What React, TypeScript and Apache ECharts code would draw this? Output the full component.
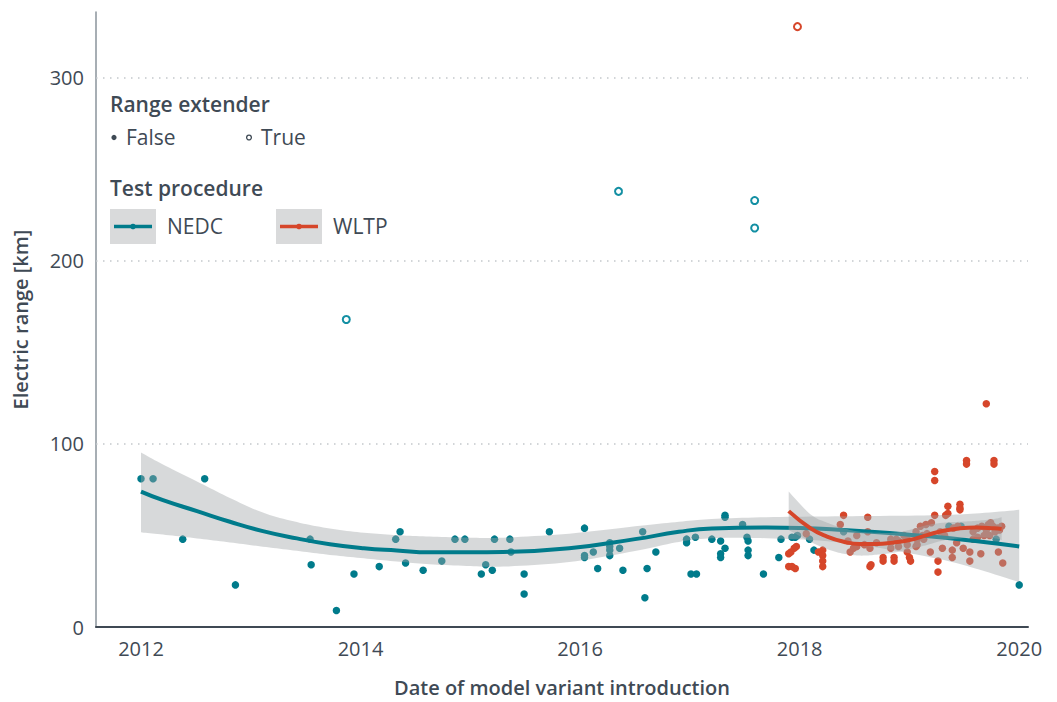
import React, { useEffect, useRef } from "react";
import * as echarts from "echarts";

const TEAL = "#007b8b";
const RED = "#d6462a";
const TEXT = "#3f4a55";
const FONT = "'Open Sans', sans-serif";
const BAND = "rgba(160,164,168,0.42)";

const xTicks = [2012, 2014, 2016, 2018, 2020];
const yTicks = [0, 100, 200, 300];
const gridValues = [100, 200, 300];

// NEDC, no range extender
const nedcFalse: [number, number][] = [
  [2012.0, 81], [2012.11, 81], [2012.38, 48], [2012.58, 81], [2012.86, 23],
  [2013.54, 48], [2013.55, 34], [2013.78, 9], [2013.94, 29], [2014.17, 33],
  [2014.32, 48], [2014.36, 52], [2014.41, 35], [2014.57, 31], [2014.74, 36],
  [2014.86, 48], [2014.95, 48], [2015.1, 29], [2015.14, 34], [2015.2, 31],
  [2015.22, 48], [2015.36, 48], [2015.37, 41], [2015.49, 29], [2015.49, 18],
  [2015.72, 52], [2016.04, 54], [2016.04, 39], [2016.04, 38], [2016.12, 41],
  [2016.16, 32], [2016.27, 46], [2016.27, 44], [2016.27, 42], [2016.27, 39],
  [2016.36, 43], [2016.39, 31], [2016.57, 52], [2016.59, 16], [2016.61, 32],
  [2016.69, 41], [2016.97, 48], [2016.97, 46], [2017.01, 29], [2017.06, 29],
  [2017.05, 49], [2017.2, 48], [2017.28, 47], [2017.32, 61], [2017.32, 60],
  [2017.32, 43], [2017.28, 40], [2017.28, 38], [2017.48, 56], [2017.52, 49],
  [2017.53, 47], [2017.53, 42], [2017.53, 39], [2017.67, 29], [2017.81, 38],
  [2017.83, 48], [2017.93, 49], [2017.96, 49], [2017.98, 50], [2018.09, 48],
  [2018.13, 42], [2018.4, 52], [2019.36, 55], [2019.47, 55], [2019.79, 48],
  [2020.0, 23],
];

// NEDC, range extender
const nedcTrue: [number, number][] = [
  [2013.87, 168], [2016.35, 238], [2017.59, 233], [2017.59, 218],
];

// WLTP, no range extender
const wltpFalse: [number, number][] = [
  [2017.9, 40], [2017.9, 33], [2017.93, 33], [2017.96, 32], [2017.92, 41],
  [2017.95, 43], [2017.97, 44], [2018.06, 51], [2018.17, 41], [2018.21, 42],
  [2018.21, 39], [2018.21, 36], [2018.21, 33], [2018.37, 56], [2018.4, 61],
  [2018.46, 41], [2018.49, 43], [2018.52, 44], [2018.59, 45], [2018.62, 60],
  [2018.62, 52], [2018.64, 43], [2018.64, 33], [2018.65, 34], [2018.76, 38],
  [2018.76, 36], [2018.83, 48], [2018.83, 46], [2018.83, 43], [2018.86, 38],
  [2018.86, 36], [2018.88, 48], [2018.9, 47], [2018.98, 48], [2018.98, 45],
  [2018.98, 41], [2019.0, 38], [2019.01, 36], [2019.06, 52], [2019.07, 45],
  [2019.07, 48], [2019.1, 55], [2019.12, 50], [2019.15, 56], [2019.2, 57],
  [2019.13, 48], [2019.16, 51], [2019.19, 41], [2019.23, 85], [2019.23, 80],
  [2019.23, 61], [2019.26, 36], [2019.26, 30], [2019.3, 43], [2019.33, 61],
  [2019.35, 62], [2019.35, 66], [2019.39, 42], [2019.39, 38], [2019.46, 67],
  [2019.46, 65], [2019.46, 64], [2019.43, 46], [2019.49, 43], [2019.52, 91],
  [2019.52, 89], [2019.55, 41], [2019.55, 36], [2019.58, 48], [2019.62, 49],
  [2019.65, 40], [2019.7, 122], [2019.77, 91], [2019.77, 89], [2019.81, 41],
  [2019.85, 35], [2019.62, 54], [2019.66, 55], [2019.7, 53], [2019.72, 56],
  [2019.74, 57], [2019.76, 55], [2019.78, 52], [2019.8, 54], [2019.82, 53],
  [2019.84, 55], [2019.73, 50], [2019.68, 50], [2019.58, 52], [2019.28, 52],
  [2019.32, 50], [2019.4, 54], [2019.44, 55], [2019.06, 44], [2018.95, 50],
  [2018.9, 44], [2018.7, 46], [2018.52, 50], [2018.44, 47],
];

// WLTP, range extender
const wltpTrue: [number, number][] = [[2017.98, 328]];

// Smoothed fits
const nedcFitX = [2012.0, 2012.2, 2012.51, 2012.81, 2013.11, 2013.42, 2013.72, 2014.03, 2014.33, 2014.63, 2015.0, 2015.3, 2015.9, 2016.5, 2016.9, 2017.2, 2017.7, 2018.4, 2019.2, 2019.6, 2020.0];
const nedcFitY = [74, 69.3, 63.3, 57.5, 52.4, 48.4, 45.2, 43, 41.8, 40.8, 40.8, 41, 43, 48, 52, 53.8, 54.3, 53, 49.4, 47, 44];
const nedcUpper = [95.3, 88.8, 79.5, 70.5, 62.5, 57.3, 53.8, 51.5, 50.2, 49.4, 48.8, 48.8, 51, 55, 57.5, 59, 60, 60.5, 61, 62, 64];
const nedcLower = [51.7, 50.5, 48.4, 46.2, 43.9, 41.6, 39.4, 37.5, 35.8, 34.3, 33.3, 33, 35.5, 41.5, 46.5, 48.5, 48.5, 46, 38, 32, 24.5];

const wltpFitX = [2017.9, 2018.1, 2018.25, 2018.4, 2018.55, 2018.7, 2018.85, 2019.0, 2019.16, 2019.31, 2019.46, 2019.61, 2019.77, 2019.84];
const wltpFitY = [63.3, 53.9, 49.4, 46.6, 45.3, 45.3, 46.1, 47.5, 50.2, 52.6, 53.9, 54.3, 53.9, 53.5];
const wltpUpper = [74, 61.5, 57, 54, 52, 51.5, 51.5, 53, 55.7, 57, 57.5, 58, 59, 60];
const wltpLower = [53, 46.5, 42.5, 40, 39, 39.5, 40.5, 42.5, 44.8, 47.3, 48.4, 49, 48.5, 47.5];

// Catmull-Rom sampling of a pixel-space polyline (drawing only)
function splinePixels(pts: number[][], steps = 10): number[][] {
  const out: number[][] = [];
  const n = pts.length;
  for (let i = 0; i < n - 1; i++) {
    const p0 = pts[Math.max(0, i - 1)];
    const p1 = pts[i];
    const p2 = pts[i + 1];
    const p3 = pts[Math.min(n - 1, i + 2)];
    const m1 = [(p2[0] - p0[0]) / 2, (p2[1] - p0[1]) / 2];
    const m2 = [(p3[0] - p1[0]) / 2, (p3[1] - p1[1]) / 2];
    for (let s = 0; s < steps; s++) {
      const t = s / steps;
      const t2 = t * t;
      const t3 = t2 * t;
      const h00 = 2 * t3 - 3 * t2 + 1;
      const h10 = t3 - 2 * t2 + t;
      const h01 = -2 * t3 + 3 * t2;
      const h11 = t3 - t2;
      out.push([
        h00 * p1[0] + h10 * m1[0] + h01 * p2[0] + h11 * m2[0],
        h00 * p1[1] + h10 * m1[1] + h01 * p2[1] + h11 * m2[1],
      ]);
    }
  }
  out.push(pts[n - 1]);
  return out;
}

function bandSeries(xs: number[], up: number[], lo: number[], z: number) {
  return {
    type: "custom",
    z,
    silent: true,
    data: [[xs[0], up[0]]],
    renderItem: (_p: any, api: any) => {
      const upper = splinePixels(xs.map((x, i) => api.coord([x, up[i]])));
      const lower = splinePixels(xs.map((x, i) => api.coord([x, lo[i]])));
      const pts = upper.concat(lower.reverse());
      return {
        type: "polygon",
        shape: { points: pts },
        style: { fill: BAND },
      };
    },
  };
}

function fitSeries(xs: number[], ys: number[], color: string, z: number) {
  return {
    type: "line",
    z,
    silent: true,
    smooth: 0.5,
    symbol: "none",
    lineStyle: { color, width: 4 },
    data: xs.map((x, i) => [x, ys[i]]),
  };
}

const legendGraphic = [
  { type: "text", x: 110, y: 104, style: { text: "Range extender", fill: TEXT, fontSize: 21, fontWeight: 600, fontFamily: FONT, verticalAlign: "middle" } },
  { type: "circle", shape: { cx: 114, cy: 137.5, r: 2.6 }, style: { fill: TEXT } },
  { type: "text", x: 126, y: 137, style: { text: "False", fill: TEXT, fontSize: 21, fontFamily: FONT, verticalAlign: "middle" } },
  { type: "circle", shape: { cx: 249, cy: 137.5, r: 2.4 }, style: { fill: "#fff", stroke: TEXT, lineWidth: 1.3 } },
  { type: "text", x: 261, y: 137, style: { text: "True", fill: TEXT, fontSize: 21, fontFamily: FONT, verticalAlign: "middle" } },
  { type: "text", x: 110, y: 188, style: { text: "Test procedure", fill: TEXT, fontSize: 21, fontWeight: 600, fontFamily: FONT, verticalAlign: "middle" } },
  { type: "rect", shape: { x: 110, y: 209, width: 46, height: 35 }, style: { fill: "#d9dadb" } },
  { type: "line", shape: { x1: 114, y1: 226.5, x2: 152, y2: 226.5 }, style: { stroke: TEAL, lineWidth: 3.5 } },
  { type: "circle", shape: { cx: 133, cy: 226.5, r: 2.8 }, style: { fill: TEAL } },
  { type: "text", x: 167, y: 226, style: { text: "NEDC", fill: TEXT, fontSize: 21, fontFamily: FONT, verticalAlign: "middle" } },
  { type: "rect", shape: { x: 276, y: 209, width: 46, height: 35 }, style: { fill: "#d9dadb" } },
  { type: "line", shape: { x1: 280, y1: 226.5, x2: 318, y2: 226.5 }, style: { stroke: RED, lineWidth: 3.5 } },
  { type: "circle", shape: { cx: 299, cy: 226.5, r: 2.8 }, style: { fill: RED } },
  { type: "text", x: 333, y: 226, style: { text: "WLTP", fill: TEXT, fontSize: 21, fontFamily: FONT, verticalAlign: "middle" } },
];

export default function App() {
  const ref = useRef<HTMLDivElement>(null);
  useEffect(() => {
    if (!ref.current) return;
    const chart = echarts.init(ref.current, null, { renderer: "svg" });
    chart.setOption({
      animation: false,
      backgroundColor: "#ffffff",
      grid: { left: 96, right: 29, top: 12, bottom: 73, containLabel: false },
      xAxis: {
        type: "value",
        min: 2011.59,
        max: 2020.08,
        axisLine: { show: true, onZero: false, lineStyle: { color: "#3f4954", width: 2 } },
        axisTick: { show: false },
        splitLine: { show: false },
        axisLabel: {
          customValues: xTicks,
          formatter: (v: number) => String(Math.round(v)),
          color: TEXT,
          fontSize: 20,
          fontFamily: FONT,
          margin: 11,
        },
        name: "Date of model variant introduction",
        nameLocation: "middle",
        nameGap: 50,
        nameTextStyle: { color: TEXT, fontSize: 20, fontWeight: 600, fontFamily: FONT },
      },
      yAxis: {
        type: "value",
        min: 0,
        max: 336,
        axisLine: { show: true, lineStyle: { color: "#8a939b", width: 1.5 } },
        axisTick: { show: false },
        splitLine: { show: false },
        axisLabel: {
          customValues: yTicks,
          color: TEXT,
          fontSize: 20,
          fontFamily: FONT,
          margin: 12,
        },
        name: "Electric range [km]",
        nameLocation: "middle",
        nameGap: 66,
        nameTextStyle: { color: TEXT, fontSize: 20, fontWeight: 600, fontFamily: FONT },
      },
      graphic: legendGraphic,
      series: [
        {
          type: "line",
          z: 1,
          data: [],
          markLine: {
            silent: true,
            symbol: "none",
            label: { show: false },
            lineStyle: { color: "#c3c7cb", width: 1.5, type: [1.5, 5.5] },
            data: gridValues.map((v) => ({ yAxis: v })),
          },
        },
        {
          type: "scatter", z: 2, silent: true, symbolSize: 7.5,
          itemStyle: { color: TEAL, opacity: 1 },
          data: nedcFalse,
        },
        {
          type: "scatter", z: 2, silent: true, symbol: "emptyCircle", symbolSize: 7,
          itemStyle: { color: "#138fa3", borderWidth: 1.6, opacity: 1 },
          data: nedcTrue,
        },
        {
          type: "scatter", z: 2, silent: true, symbolSize: 7.5,
          itemStyle: { color: RED, opacity: 1 },
          data: wltpFalse,
        },
        {
          type: "scatter", z: 2, silent: true, symbol: "emptyCircle", symbolSize: 7,
          itemStyle: { color: RED, borderWidth: 1.6, opacity: 1 },
          data: wltpTrue,
        },
        bandSeries(nedcFitX, nedcUpper, nedcLower, 3),
        fitSeries(nedcFitX, nedcFitY, TEAL, 4),
        bandSeries(wltpFitX, wltpUpper, wltpLower, 5),
        fitSeries(wltpFitX, wltpFitY, RED, 6),
      ],
    });
    return () => chart.dispose();
  }, []);
  return (
    <div
      ref={ref}
      style={{ position: "fixed", left: 0, top: 0, width: 1057, height: 702, background: "#fff" }}
    />
  );
}
